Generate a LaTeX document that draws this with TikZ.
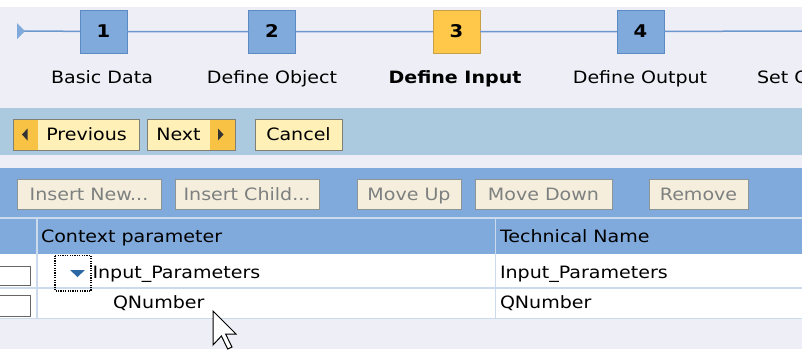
\documentclass[tikz,border=0pt]{standalone}
\usepackage{fontspec}
\newfontfamily\ui[FakeStretch=1.12]{DejaVu Sans}
\definecolor{lav}{RGB}{238,238,246}
\definecolor{stepblue}{RGB}{128,169,220}
\definecolor{stepborder}{RGB}{92,138,194}
\definecolor{stepline}{RGB}{108,151,206}
\definecolor{curyellow}{RGB}{255,200,74}
\definecolor{curborder}{RGB}{200,160,70}
\definecolor{toolband}{RGB}{172,202,223}
\definecolor{tblblue}{RGB}{129,170,220}
\definecolor{navfill}{RGB}{255,240,184}
\definecolor{navarrow}{RGB}{248,194,68}
\definecolor{navborder}{RGB}{128,128,118}
\definecolor{disfill}{RGB}{246,238,220}
\definecolor{disborder}{RGB}{140,148,150}
\definecolor{distext}{RGB}{125,128,128}
\definecolor{gridline}{RGB}{204,218,238}
\definecolor{treearrow}{RGB}{46,104,164}
\begin{document}
\begin{tikzpicture}[x=1pt,y=-1pt,
  every node/.style={inner sep=0pt,outer sep=0pt},
  uifont/.style={font=\ui\fontsize{17}{20}\selectfont,text height=14pt,text depth=1.6pt},
  stepbox/.style={draw=stepborder,fill=stepblue,line width=1pt,minimum width=47pt,minimum height=43pt,font=\ui\bfseries\fontsize{17.5}{19}\selectfont},
  curbox/.style={stepbox,draw=curborder,fill=curyellow},
  steplabel/.style={uifont,text=black},
  navbtn/.style={draw=navborder,fill=navfill,line width=1pt,minimum height=31pt},
  disbtn/.style={draw=disborder,fill=disfill,line width=1pt,minimum height=30pt,uifont,text=distext},
  cell/.style={uifont,anchor=west,text=black},
  chk/.style={draw=gray!80!black,fill=white,line width=1pt}
]
\clip (0,0) rectangle (802,349);
% backgrounds
\fill[white] (0,0) rectangle (802,7);
\fill[lav] (0,7) rectangle (802,108);
\fill[toolband] (0,108) rectangle (802,155);
\fill[lav] (0,155) rectangle (802,168);
\fill[tblblue] (0,168) rectangle (802,217);
\fill[gridline] (0,217) rectangle (802,218.5);
\fill[tblblue] (0,218.5) rectangle (802,254);
\fill[white] (0,254) rectangle (802,319);
\fill[lav] (0,319) rectangle (802,349);
% grid lines
\draw[gridline,line width=1.5pt] (0,288) -- (802,288);
\draw[gridline,line width=1.5pt] (0,318.5) -- (802,318.5);
\draw[gridline,line width=1.5pt] (37,218) -- (37,318);
\draw[gridline,line width=1.5pt] (495.5,218) -- (495.5,318);

% roadmap
\coordinate (start) at (24,31);
\coordinate (rend) at (802,31);
\node[stepbox] (b1) at (103.5,31.5) {1};
\node[stepbox] (b2) at (272,31.5) {2};
\node[curbox] (b3) at (456.5,31.5) {3};
\node[stepbox] (b4) at (640.5,31.5) {4};
\draw[stepline,line width=1.5pt] (start) -- (b1) (b1) -- (b2) (b2) -- (b3) (b3) -- (b4) (b4) -- (rend);
\fill[stepblue] (17,23) -- (25,31) -- (17,39) -- cycle;
\node[steplabel] (l1) at (102,77.5) {Basic Data};
\node[steplabel] (l2) at (272,77.5) {Define Object};
\node[steplabel,font=\ui\bfseries\fontsize{17}{20}\selectfont] (l3) at (455,77.5) {Define Input};
\node[steplabel] (l4) at (640,77.5) {Define Output};
\node[steplabel,anchor=west] (l5) at (757,77.5) {Set Context};

% navigation buttons
\node[navbtn,minimum width=126pt,path picture={\fill[navarrow] (path picture bounding box.north west) rectangle ([xshift=25pt]path picture bounding box.south west);}] (prev) at (76,134.5) {};
\fill[black!80] (22,134.5) -- (27.5,128.5) -- (27.5,140.5) -- cycle;
\node[uifont] (prevt) at (86.5,134.5) {Previous};
\node[navbtn,minimum width=88pt,path picture={\fill[navarrow] ([xshift=-25pt]path picture bounding box.north east) rectangle (path picture bounding box.south east);}] (next) at (191,134.5) {};
\fill[black!80] (223.5,134.5) -- (218,128.5) -- (218,140.5) -- cycle;
\node[uifont] (nextt) at (178.5,134.5) {Next};
\node[navbtn,minimum width=87pt,uifont] (cancel) at (298.5,134.5) {Cancel};

% table toolbar buttons
\node[disbtn,minimum width=144pt] (insnew) at (89,194) {Insert New...};
\node[disbtn,minimum width=144pt] (inschild) at (247,194) {Insert Child...};
\node[disbtn,minimum width=104pt] (moveup) at (409,194) {Move Up};
\node[disbtn,minimum width=137pt] (movedown) at (543.5,194) {Move Down};
\node[disbtn,minimum width=99pt] (remove) at (698.5,194) {Remove};

% header
\node[cell] (h1) at (41,236.5) {Context parameter};
\node[cell] (h2) at (500,236.5) {Technical Name};

% rows
\node[chk,minimum width=34pt,minimum height=19pt] (c1) at (13,275.5) {};
\node[chk,minimum width=34pt,minimum height=21pt] (c2) at (13,306) {};
\draw[black,line width=1.2pt,dash pattern=on 1.2pt off 1.2pt] (55,255.5) rectangle (91,291);
\fill[treearrow] (70,270) -- (85,270) -- (77.5,277) -- cycle;
\node[cell] (r1a) at (92.5,272) {Input\_Parameters};
\node[cell] (r1b) at (500,272) {Input\_Parameters};
\node[cell] (r2a) at (113,302) {QNumber};
\node[cell] (r2b) at (500,302) {QNumber};

% mouse cursor
\draw[black,fill=white,line width=1pt,line join=miter]
  (213,311) -- (213,345) -- (221.4,336) -- (227.7,349) -- (232,347) -- (225.6,334) -- (236,334) -- cycle;
\end{tikzpicture}
\end{document}
